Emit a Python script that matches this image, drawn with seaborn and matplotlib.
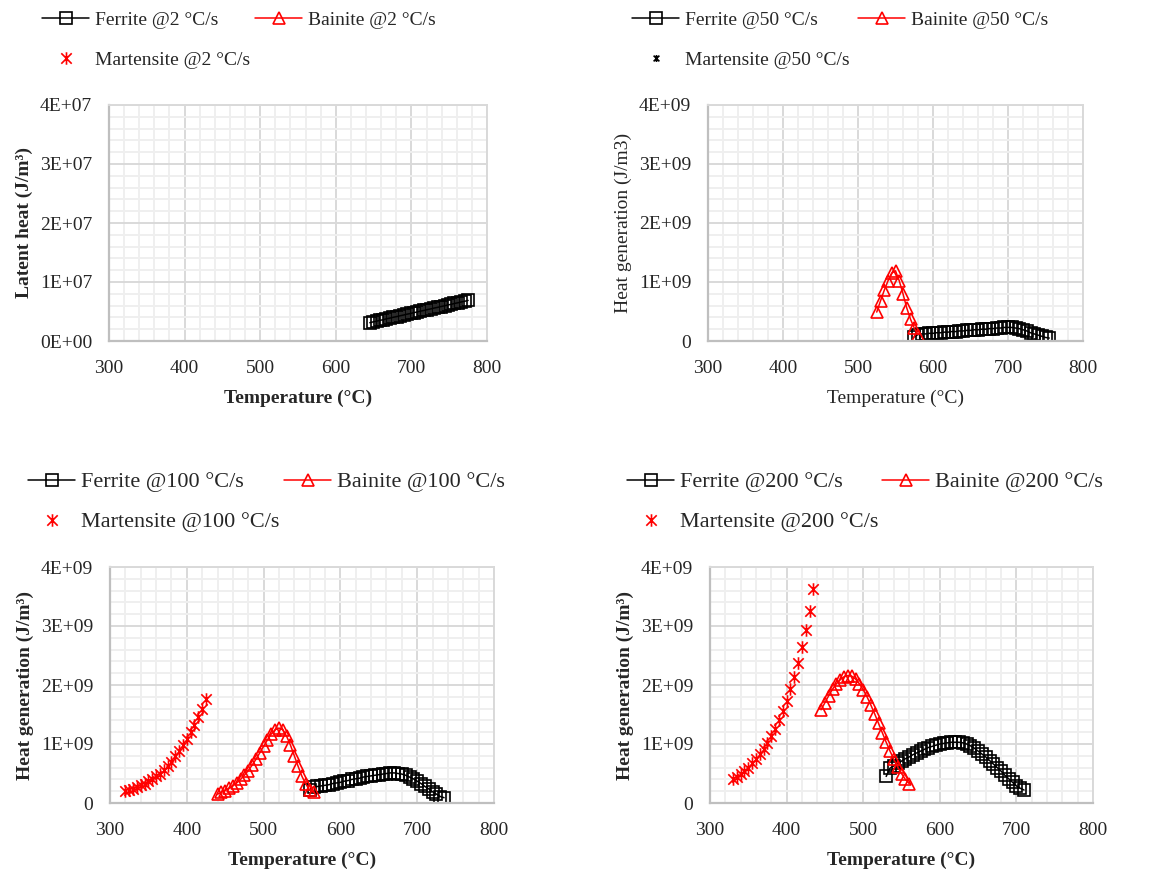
import matplotlib
matplotlib.use('Agg')
import matplotlib.pyplot as plt
import seaborn as sns
from matplotlib.path import Path
from matplotlib.lines import Line2D
from matplotlib.ticker import MultipleLocator

# ── Data (y values of heat panels in units of 1E9 J/m3) ─────────────────────
# @2 C/s (latent heat, units of 1E6 J/m3)
t2_ferrite = [645, 649, 654, 658, 663, 667, 672, 676, 681, 685, 690, 694, 699, 703, 708,
              712, 717, 721, 726, 730, 735, 739, 744, 748, 753, 757, 762, 766, 771, 775]
q2_ferrite = [3.10, 3.23, 3.36, 3.49, 3.62, 3.76, 3.89, 4.02, 4.15, 4.28, 4.41, 4.54, 4.67, 4.80, 4.93,
              5.06, 5.19, 5.32, 5.45, 5.58, 5.71, 5.84, 5.97, 6.10, 6.23, 6.36, 6.49, 6.62, 6.75, 6.88]

# @50 C/s
t50_ferrite = [575, 580, 585, 590, 595, 600, 605, 610, 615, 620, 625, 630, 635, 640, 645, 650, 655, 660, 665,
               670, 675, 680, 685, 690, 695, 700, 705, 710, 715, 720, 725, 730, 735, 740, 745, 750, 755]
q50_ferrite = [0.07, 0.11, 0.12, 0.12, 0.13, 0.13, 0.14, 0.14, 0.15, 0.15, 0.16, 0.16, 0.17, 0.17, 0.18, 0.18, 0.19, 0.19, 0.20,
               0.20, 0.21, 0.21, 0.22, 0.22, 0.23, 0.23, 0.23, 0.22, 0.21, 0.19, 0.17, 0.14, 0.12, 0.10, 0.08, 0.06, 0.05]
t50_bainite = [525, 530, 535, 540, 545, 550, 555, 560, 565, 570, 575, 580]
q50_bainite = [0.49, 0.68, 0.86, 1.02, 1.15, 1.19, 1.02, 0.80, 0.56, 0.37, 0.22, 0.11]

# @100 C/s
t100_ferrite = [560, 565, 570, 575, 580, 585, 590, 595, 600, 605, 610, 615, 620, 625, 630, 635, 640, 645,
                650, 655, 660, 665, 670, 675, 680, 685, 690, 695, 700, 705, 710, 715, 720, 725, 730, 735]
q100_ferrite = [0.22, 0.27, 0.28, 0.29, 0.30, 0.31, 0.33, 0.34, 0.35, 0.37, 0.38, 0.40, 0.41, 0.42, 0.44, 0.45, 0.46, 0.47,
                0.48, 0.49, 0.50, 0.51, 0.51, 0.50, 0.49, 0.47, 0.44, 0.41, 0.37, 0.33, 0.28, 0.24, 0.19, 0.15, 0.11, 0.09]
t100_bainite = [440, 445, 450, 455, 460, 465, 470, 475, 480, 485, 490, 495, 500,
                505, 510, 515, 520, 525, 530, 535, 540, 545, 550, 555, 560, 565]
q100_bainite = [0.15, 0.18, 0.21, 0.25, 0.29, 0.34, 0.40, 0.47, 0.55, 0.64, 0.74, 0.85, 0.96,
                1.07, 1.17, 1.24, 1.27, 1.24, 1.13, 0.98, 0.80, 0.62, 0.45, 0.32, 0.22, 0.18]
t100_martensite = [320, 325, 330, 335, 340, 345, 350, 355, 360, 365, 370,
                   375, 380, 385, 390, 395, 400, 405, 410, 415, 420, 425]
q100_martensite = [0.20, 0.22, 0.24, 0.27, 0.30, 0.33, 0.37, 0.41, 0.45, 0.50, 0.56,
                   0.63, 0.70, 0.79, 0.88, 0.98, 1.08, 1.20, 1.33, 1.46, 1.60, 1.77]

# @200 C/s
t200_ferrite = [530, 535, 540, 545, 550, 555, 560, 565, 570, 575, 580, 585, 590, 595, 600, 605, 610, 615, 620,
                625, 630, 635, 640, 645, 650, 655, 660, 665, 670, 675, 680, 685, 690, 695, 700, 705, 710]
q200_ferrite = [0.45, 0.59, 0.63, 0.67, 0.71, 0.75, 0.78, 0.82, 0.85, 0.88, 0.91, 0.94, 0.96, 0.98, 1.00, 1.01, 1.02, 1.03, 1.03,
                1.03, 1.02, 1.00, 0.97, 0.93, 0.88, 0.83, 0.78, 0.72, 0.66, 0.60, 0.54, 0.47, 0.41, 0.35, 0.29, 0.25, 0.22]
t200_bainite = [445, 450, 455, 460, 465, 470, 475, 480, 485, 490, 495, 500,
                505, 510, 515, 520, 525, 530, 535, 540, 545, 550, 555, 560]
q200_bainite = [1.58, 1.70, 1.82, 1.93, 2.02, 2.09, 2.14, 2.16, 2.15, 2.10, 2.02, 1.92,
                1.80, 1.66, 1.51, 1.35, 1.19, 1.03, 0.88, 0.74, 0.61, 0.50, 0.40, 0.33]
t200_martensite = [330, 335, 340, 345, 350, 355, 360, 365, 370, 375, 380,
                   385, 390, 395, 400, 405, 410, 415, 420, 425, 430, 435]
q200_martensite = [0.40, 0.44, 0.49, 0.54, 0.60, 0.67, 0.75, 0.83, 0.92, 1.02, 1.13,
                   1.26, 1.40, 1.56, 1.73, 1.93, 2.14, 2.38, 2.64, 2.93, 3.25, 3.62]

rates = ['2', '50', '100', '200']
ytick_labels_2 = ['0E+00', '1E+07', '2E+07', '3E+07', '4E+07']
ytick_labels_hg = ['0', '1E+09', '2E+09', '3E+09', '4E+09']

# ── Style ───────────────────────────────────────────────────────────────────
sns.set_style('white')
plt.rcParams['font.family'] = ['Liberation Serif', 'DejaVu Serif']
plt.rcParams['font.size'] = 14
FS = 14

asterisk = Path([(-1, -1), (1, 1), (-1, 1), (1, -1), (0, -1.2), (0, 1.2)],
                [Path.MOVETO, Path.LINETO, Path.MOVETO, Path.LINETO, Path.MOVETO, Path.LINETO])

W, H = 1152, 877
fig = plt.figure(figsize=(W / 100, H / 100), dpi=100)

# axes boxes in pixels: left, right, top, bottom
boxes = [(109, 487, 105, 341), (708, 1083, 105, 341), (110, 494, 567, 803), (710, 1093, 567, 803)]
# legend entries: (ferrite x, bainite x, row-1 y, font size); martensite sits under ferrite
legend_pos = [(42, 255, 20, 14), (632, 858, 20, 14), (28, 284, 482, 16), (627, 882, 482, 16)]

ferrite_kw = dict(color='black', lw=1.1, marker='s', markersize=8, mfc='none', mec='black', mew=1.2)
bainite_kw = dict(color='red', lw=1.1, marker='^', markersize=9, mfc='none', mec='red', mew=1.2)


def mart_kw(color='red', size=9):
    return dict(color=color, linestyle='none', marker=asterisk, markersize=size, mec=color, mew=1.2)


def make_ax(box):
    l, r, t, b = box
    return fig.add_axes([l / W, 1 - b / H, (r - l) / W, (b - t) / H])


def style_ax(ax, yscale, ylabels, ylabel, bold):
    ax.set_xlim(300, 800)
    ax.set_ylim(0, 4 * yscale)
    ax.set_xticks([300, 400, 500, 600, 700, 800])
    ax.set_yticks([i * yscale for i in range(5)])
    ax.set_yticklabels(ylabels)
    ax.xaxis.set_minor_locator(MultipleLocator(20))
    ax.yaxis.set_minor_locator(MultipleLocator(0.2 * yscale))
    ax.set_axisbelow(True)
    ax.grid(which='major', color='#d9d9d9', lw=1.4)
    ax.grid(which='minor', color='#efefef', lw=1.4)
    ax.tick_params(axis='y', which='both', length=0, labelsize=FS, pad=12)
    ax.tick_params(axis='x', which='both', length=0, labelsize=FS, pad=14)
    for s in ['left', 'bottom']:
        ax.spines[s].set_color('#bfbfbf')
        ax.spines[s].set_linewidth(1.6)
    for s in ['top', 'right']:
        ax.spines[s].set_color('#d9d9d9')
        ax.spines[s].set_linewidth(1.4)
    w = 'bold' if bold else 'normal'
    ax.set_xlabel('Temperature (\u00b0C)', fontsize=FS, fontweight=w, labelpad=9)
    ax.set_ylabel(ylabel, fontsize=FS, fontweight=w, labelpad=5)


def add_legend(pos, rate, mkw):
    fx, bx, y, fs = pos
    entries = [(ferrite_kw, f'Ferrite @{rate} \u00b0C/s', fx, y),
               (bainite_kw, f'Bainite @{rate} \u00b0C/s', bx, y),
               (mkw, f'Martensite @{rate} \u00b0C/s', fx, y + 40)]
    for kw, label, x0, y0 in entries:
        fig.legend([Line2D([], [], **kw)], [label], loc='center left',
                   bbox_to_anchor=(x0 / W, 1 - y0 / H), frameon=False, fontsize=fs,
                   borderpad=0, borderaxespad=0, handlelength=47 / (fs * 100 / 72),
                   handletextpad=6 / (fs * 100 / 72))


def plot_series(ax, x, y, kw):
    sns.lineplot(x=x, y=y, ax=ax, legend=False, **kw)


# ── Panel @2 ────────────────────────────────────────────────────────────────
ax = make_ax(boxes[0])
plot_series(ax, t2_ferrite, [v * 1e6 for v in q2_ferrite], ferrite_kw)
style_ax(ax, 1e7, ytick_labels_2, 'Latent heat (J/m\u00b3)', True)
add_legend(legend_pos[0], rates[0], mart_kw())

# ── Panel @50 ───────────────────────────────────────────────────────────────
ax = make_ax(boxes[1])
plot_series(ax, t50_ferrite, [v * 1e9 for v in q50_ferrite], ferrite_kw)
plot_series(ax, t50_bainite, [v * 1e9 for v in q50_bainite], bainite_kw)
style_ax(ax, 1e9, ytick_labels_hg, 'Heat generation (J/m3)', False)
add_legend(legend_pos[1], rates[1], mart_kw('black', 5))

# ── Panel @100 ──────────────────────────────────────────────────────────────
ax = make_ax(boxes[2])
plot_series(ax, t100_ferrite, [v * 1e9 for v in q100_ferrite], ferrite_kw)
plot_series(ax, t100_bainite, [v * 1e9 for v in q100_bainite], bainite_kw)
plot_series(ax, t100_martensite, [v * 1e9 for v in q100_martensite], mart_kw())
style_ax(ax, 1e9, ytick_labels_hg, 'Heat generation (J/m\u00b3)', True)
add_legend(legend_pos[2], rates[2], mart_kw())

# ── Panel @200 ──────────────────────────────────────────────────────────────
ax = make_ax(boxes[3])
plot_series(ax, t200_ferrite, [v * 1e9 for v in q200_ferrite], ferrite_kw)
plot_series(ax, t200_bainite, [v * 1e9 for v in q200_bainite], bainite_kw)
plot_series(ax, t200_martensite, [v * 1e9 for v in q200_martensite], mart_kw())
style_ax(ax, 1e9, ytick_labels_hg, 'Heat generation (J/m\u00b3)', True)
add_legend(legend_pos[3], rates[3], mart_kw())

fig.savefig('out.png', dpi=100)
plt.close(fig)
